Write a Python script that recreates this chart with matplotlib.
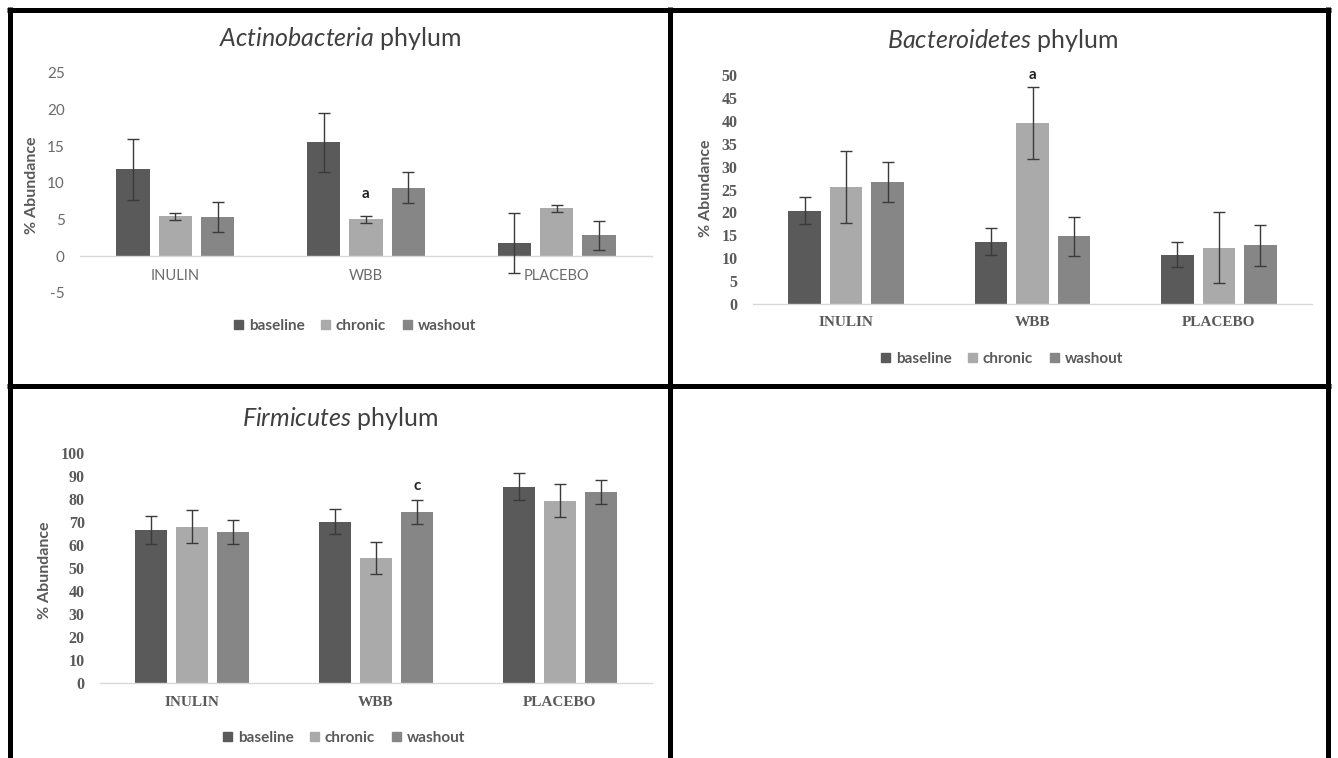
import matplotlib
matplotlib.use("Agg")
import matplotlib.pyplot as plt
from matplotlib.lines import Line2D
import numpy as np

plt.rcParams['font.family'] = ['Lato', 'DejaVu Sans']
plt.rcParams['mathtext.fontset'] = 'custom'
plt.rcParams['mathtext.rm'] = 'Lato'
plt.rcParams['mathtext.it'] = 'Lato:italic'

# ---- data ----
groups = ['INULIN', 'WBB', 'PLACEBO']
series = ['baseline', 'chronic', 'washout']

actino_baseline = [11.8, 15.5, 1.8]
actino_chronic = [5.4, 5.0, 6.5]
actino_washout = [5.3, 9.3, 2.8]
actino_baseline_err = [4.1, 4.0, 4.1]
actino_chronic_err = [0.5, 0.5, 0.5]
actino_washout_err = [2.0, 2.1, 2.0]

bactero_baseline = [20.4, 13.6, 10.8]
bactero_chronic = [25.5, 39.5, 12.3]
bactero_washout = [26.7, 14.8, 12.8]
bactero_baseline_err = [3.0, 3.0, 2.7]
bactero_chronic_err = [7.8, 7.9, 7.8]
bactero_washout_err = [4.4, 4.3, 4.4]

firmi_baseline = [66.5, 70.1, 85.3]
firmi_chronic = [67.9, 54.2, 79.1]
firmi_washout = [65.5, 74.4, 83.0]
firmi_baseline_err = [6.0, 5.5, 6.0]
firmi_chronic_err = [7.1, 7.0, 7.2]
firmi_washout_err = [5.2, 5.2, 5.2]

actino_ticks = [-5, 0, 5, 10, 15, 20, 25]
bactero_ticks = [0, 5, 10, 15, 20, 25, 30, 35, 40, 45, 50]
firmi_ticks = [0, 10, 20, 30, 40, 50, 60, 70, 80, 90, 100]

# ---- style ----
COLORS = {'baseline': '#5a5a5a', 'chronic': '#aaaaaa', 'washout': '#868686'}
W, H = 1338, 758
BAR_W = 0.175
STEP = 0.222

fig = plt.figure(figsize=(W / 100, H / 100), dpi=100)
fig.patch.set_facecolor('white')
label_styles = []


def px_rect(l, t, r, b):
    return [l / W, 1 - b / H, (r - l) / W, (b - t) / H]


def fx(x):
    return x / W


def fy(y):
    return 1 - y / H


def panel(rect, means, errs, ylim, ticks, font, color, weight, ysize, xsize,
          mark, mark_offset):
    ax = fig.add_axes(px_rect(*rect))
    x = np.arange(len(groups))
    for i, s in enumerate(series):
        pos = x + (i - 1) * STEP
        ax.bar(pos, means[s], width=BAR_W, color=COLORS[s], zorder=2)
        ax.errorbar(pos, means[s], yerr=errs[s], fmt='none', ecolor='#3a3a3a',
                    elinewidth=1.0, capsize=4, capthick=1.0, zorder=3)
    ax.set_xlim(-0.5, 2.5)
    ax.set_ylim(*ylim)
    ax.set_yticks(ticks)
    ax.set_yticklabels([str(t) for t in ticks])
    ax.set_xticks(x)
    ax.set_xticklabels(groups)
    ax.tick_params(axis='both', length=0)
    ax.tick_params(axis='y', pad=11)
    ax.tick_params(axis='x', pad=9)
    for sp in ['top', 'right', 'left']:
        ax.spines[sp].set_visible(False)
    ax.spines['bottom'].set_position(('data', 0))
    ax.spines['bottom'].set_color('#d9d9d9')
    ax.spines['bottom'].set_linewidth(1.0)
    ax.patch.set_alpha(0)
    letter, gi, s = mark
    si = series.index(s)
    ax.annotate(letter, xy=(gi + (si - 1) * STEP, means[s][gi] + errs[s][gi]),
                xytext=(0, mark_offset), textcoords='offset pixels',
                ha='center', va='center', fontsize=11, fontweight='bold',
                color='#222222')
    label_styles.append((ax, font, color, weight, ysize, xsize))
    return ax


def apply_label_styles():
    fig.canvas.draw()
    for ax, font, color, weight, ysize, xsize in label_styles:
        for lbl in ax.get_yticklabels():
            lbl.set_fontfamily(font)
            lbl.set_fontweight(weight)
            lbl.set_fontsize(ysize)
            lbl.set_color(color)
        for lbl in ax.get_xticklabels():
            lbl.set_fontfamily(font)
            lbl.set_fontweight(weight)
            lbl.set_fontsize(xsize)
            lbl.set_color(color)


def title(xc, yc, genus):
    fig.text(fx(xc), fy(yc), r'$\mathit{' + genus + r'}$ phylum', ha='center',
             va='center', fontsize=18, color='#404040')


def ylabel(xc, yc):
    fig.text(fx(xc), fy(yc), '% Abundance', rotation=90, ha='center',
             va='center', fontsize=11.5, fontweight='bold', color='#595959')


def legend(xc, yc):
    handles = [plt.Rectangle((0, 0), 1, 1, color=COLORS[s]) for s in series]
    fig.legend(handles, series, loc='center', bbox_to_anchor=(fx(xc), fy(yc)),
               ncol=3, frameon=False, handlelength=0.6, handleheight=0.6,
               handletextpad=0.35, columnspacing=1.1,
               prop={'family': 'Lato', 'weight': 'bold', 'size': 11},
               labelcolor='#595959')


# Actinobacteria
panel((80, 72.7, 652, 292.7),
      {'baseline': actino_baseline, 'chronic': actino_chronic, 'washout': actino_washout},
      {'baseline': actino_baseline_err, 'chronic': actino_chronic_err,
       'washout': actino_washout_err},
      (-5, 25), actino_ticks, 'Lato', '#6a6a6a', 'normal', 11, 10.5,
      ('a', 1, 'chronic'), 22)
title(340, 38, 'Actinobacteria')
ylabel(32, 185)
legend(355, 326)

# Bacteroidetes
panel((753, 75, 1312, 304),
      {'baseline': bactero_baseline, 'chronic': bactero_chronic, 'washout': bactero_washout},
      {'baseline': bactero_baseline_err, 'chronic': bactero_chronic_err,
       'washout': bactero_washout_err},
      (0, 50), bactero_ticks, 'Liberation Serif', '#595959', 'bold', 11.5, 11,
      ('a', 1, 'chronic'), 12)
title(1003, 41, 'Bacteroidetes')
ylabel(706, 188)
legend(1002, 359)

# Firmicutes
panel((100, 452.7, 652, 683.3),
      {'baseline': firmi_baseline, 'chronic': firmi_chronic, 'washout': firmi_washout},
      {'baseline': firmi_baseline_err, 'chronic': firmi_chronic_err,
       'washout': firmi_washout_err},
      (0, 100), firmi_ticks, 'Liberation Serif', '#595959', 'bold', 11.5, 11,
      ('c', 1, 'washout'), 14)
title(340, 418, 'Firmicutes')
ylabel(45, 570)
legend(344, 738)

# panel frame
LW = 5 * 72 / 100
frame = [
    ((7, 1331), (9.5, 9.5)),
    ((7, 1331), (386, 386)),
    ((9.5, 9.5), (7, 760)),
    ((670, 670), (7, 760)),
    ((1328, 1328), (7, 760)),
]
for xs, ys in frame:
    fig.add_artist(Line2D([fx(xs[0]), fx(xs[1])], [fy(ys[0]), fy(ys[1])],
                          color='black', lw=LW, solid_capstyle='butt'))

apply_label_styles()
fig.savefig('out.png', dpi=100, facecolor='white')
